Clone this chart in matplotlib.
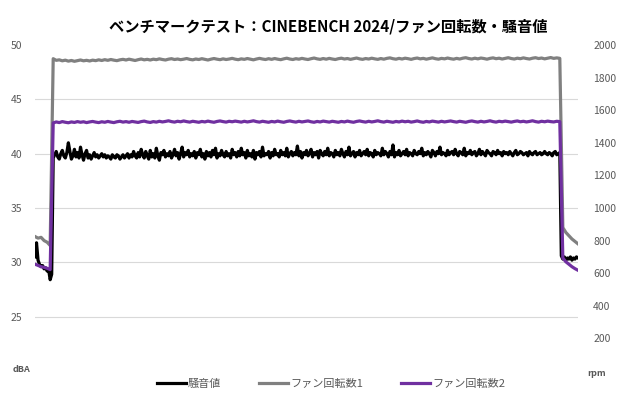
import matplotlib
matplotlib.use("Agg")
import matplotlib.pyplot as plt
import numpy as np

plt.rcParams['font.family'] = ['Noto Sans CJK JP', 'DejaVu Sans']

title = "ベンチマークテスト：CINEBENCH 2024/ファン回転数・騒音値"
series_names = ["騒音値", "ファン回転数1", "ファン回転数2"]

# --- noise (dBA), sampled twice as often as the fans ---
noise_idle_start = [30.5, 31.8, 30.2, 29.8, 29.6, 29.7, 29.4, 29.5, 29.2, 29.3, 28.4, 28.9]
noise_load = [
    39.6, 39.9, 40.2, 39.7, 39.5, 40.0, 40.3, 39.8, 39.6, 40.1, 41.0, 40.2,
    39.5, 39.8, 40.4, 39.7, 40.1, 39.6, 40.6, 39.9, 39.4, 40.0, 40.3, 39.6,
    39.9, 39.5, 39.8, 40.1, 39.7, 39.9, 39.6, 39.8, 40.0, 39.7, 39.9, 39.6,
    39.8, 39.7, 39.5, 39.9, 39.7, 39.6, 39.9, 39.8, 39.5, 39.7, 39.9, 39.6,
    39.8, 40.0, 39.6, 39.9, 39.7, 40.2, 39.8, 39.6, 40.1, 39.7, 40.4, 39.9,
    39.6, 40.2, 39.8, 39.5, 40.3, 39.7, 40.0, 39.6, 40.5, 39.8, 39.4, 40.1,
    39.9, 40.3, 39.7, 40.0, 39.8, 40.2, 39.6, 39.9, 40.4, 39.8, 40.1, 39.5,
    40.0, 40.6, 39.7, 40.1, 39.9, 40.3, 39.7, 40.0, 39.8, 40.2, 39.6, 40.1,
    39.9, 40.4, 39.7, 40.0, 39.5, 40.2, 39.8, 40.1, 39.7, 40.3, 39.9, 40.5,
    39.6, 40.0, 39.8, 40.3, 39.9, 39.7, 40.2, 39.8, 40.0, 39.6, 40.4, 39.9,
    40.1, 39.7, 40.2, 39.8, 40.5, 39.9, 40.1, 39.6, 40.3, 39.8, 40.0, 39.7,
    40.3, 39.5, 40.1, 39.9, 40.2, 39.7, 40.6, 39.8, 40.0, 39.9, 40.2, 39.6,
    40.1, 39.8, 40.4, 39.9, 40.0, 39.7, 40.3, 39.9, 40.1, 39.8, 40.5, 39.7,
    40.0, 40.2, 39.8, 40.1, 39.9, 40.7, 39.8, 40.2, 39.6, 40.1, 39.9, 40.3,
    39.8, 40.0, 40.4, 39.7, 40.1, 39.9, 40.2, 39.6, 40.3, 40.0, 39.8, 40.2,
    39.9, 40.5, 39.8, 40.1, 40.0, 39.7, 40.3, 39.9, 40.1, 39.8, 40.4, 40.0,
    39.7, 40.2, 39.9, 40.6, 39.8, 40.0, 40.2, 39.7, 40.1, 39.9, 40.3, 39.8,
    40.0, 40.2, 39.9, 40.4, 39.8, 40.1, 40.0, 39.7, 40.3, 39.9, 40.1, 40.0,
    39.8, 40.5, 39.9, 40.2, 40.0, 39.7, 40.2, 39.9, 40.8, 39.7, 40.1, 39.9,
    40.3, 39.8, 40.0, 40.2, 39.9, 40.4, 39.8, 40.1, 40.0, 39.8, 40.3, 40.0,
    39.9, 40.2, 40.0, 40.5, 39.8, 40.1, 39.9, 40.2, 40.0, 39.7, 40.3, 40.1,
    39.8, 40.2, 40.0, 40.6, 39.9, 40.1, 40.0, 39.8, 40.3, 39.9, 40.1, 40.2,
    39.9, 40.4, 40.0, 39.8, 40.2, 40.1, 39.9, 40.5, 39.8, 40.1, 40.0, 40.3,
    39.9, 40.1, 40.2, 39.8, 40.0, 40.4, 39.9, 40.2, 40.0, 39.8, 40.3, 40.1,
    40.0, 39.8, 40.2, 40.1, 39.9, 40.3, 40.0, 40.1, 39.8, 40.2, 40.0, 40.1,
    39.9, 40.2, 40.0, 39.8, 40.1, 40.3, 39.9, 40.0, 40.2, 40.1, 39.9, 40.0,
    40.1, 39.8, 40.2, 40.0, 39.9, 40.1, 40.2, 39.9, 40.0, 40.1, 39.9, 40.0,
    40.2, 40.0, 39.9, 40.1, 40.0, 39.8, 40.1, 40.2, 39.9, 40.0, 40.1,
]
noise_idle_end = [30.6, 30.3, 30.5, 30.2, 30.4, 30.3, 30.5, 30.2, 30.4, 30.3, 30.5, 30.4]

# --- fan 1 (rpm) ---
fan1_idle_start = [825, 815, 820, 800, 790, 770]
fan1_load = [
    1916, 1906, 1909, 1903, 1907, 1901, 1905, 1900, 1904, 1908, 1903, 1906,
    1902, 1907, 1904, 1909, 1905, 1910, 1906, 1911, 1907, 1904, 1909, 1912,
    1908, 1913, 1909, 1905, 1910, 1914, 1909, 1912, 1908, 1913, 1910, 1915,
    1911, 1908, 1913, 1916, 1911, 1914, 1910, 1913, 1917, 1912, 1909, 1914,
    1911, 1916, 1912, 1908, 1913, 1917, 1913, 1910, 1915, 1911, 1914, 1918,
    1913, 1910, 1915, 1912, 1917, 1913, 1909, 1914, 1918, 1914, 1911, 1916,
    1912, 1917, 1913, 1910, 1915, 1919, 1914, 1911, 1916, 1913, 1918, 1914,
    1911, 1916, 1920, 1915, 1912, 1917, 1913, 1918, 1914, 1911, 1916, 1919,
    1914, 1917, 1912, 1916, 1920, 1915, 1912, 1917, 1914, 1919, 1915, 1912,
    1917, 1913, 1918, 1921, 1916, 1913, 1918, 1914, 1919, 1916, 1912, 1917,
    1920, 1915, 1918, 1913, 1917, 1921, 1916, 1913, 1918, 1915, 1920, 1916,
    1913, 1918, 1914, 1919, 1922, 1917, 1914, 1919, 1915, 1920, 1917, 1913,
    1918, 1921, 1916, 1919, 1914, 1918, 1922, 1917, 1914, 1919, 1916, 1921,
    1917, 1914, 1919, 1922, 1917, 1920, 1915, 1919, 1923, 1918, 1921, 1918,
]
fan1_idle_end = [880, 850, 830, 810, 795, 780]

# --- fan 2 (rpm) ---
fan2_idle_start = [655, 648, 640, 636, 630, 622]
fan2_load = [
    1522, 1528, 1524, 1530, 1526, 1523, 1528, 1525, 1530, 1526, 1529, 1524,
    1528, 1531, 1527, 1524, 1529, 1526, 1531, 1527, 1524, 1529, 1532, 1527,
    1530, 1526, 1531, 1528, 1525, 1530, 1533, 1528, 1525, 1530, 1527, 1532,
    1528, 1531, 1535, 1530, 1527, 1532, 1529, 1534, 1530, 1527, 1532, 1529,
    1526, 1531, 1528, 1533, 1529, 1526, 1531, 1534, 1530, 1527, 1532, 1529,
    1533, 1530, 1527, 1532, 1528, 1531, 1535, 1530, 1527, 1532, 1529, 1526,
    1531, 1528, 1533, 1529, 1526, 1531, 1534, 1530, 1527, 1532, 1528, 1531,
    1534, 1529, 1526, 1531, 1528, 1533, 1530, 1527, 1532, 1529, 1526, 1531,
    1528, 1533, 1529, 1526, 1531, 1534, 1530, 1527, 1532, 1528, 1531, 1535,
    1530, 1527, 1532, 1529, 1526, 1531, 1528, 1533, 1529, 1532, 1527, 1530,
    1534, 1529, 1526, 1531, 1528, 1533, 1530, 1527, 1532, 1528, 1531, 1534,
    1530, 1527, 1532, 1529, 1526, 1531, 1534, 1530, 1527, 1532, 1528, 1531,
    1535, 1530, 1527, 1532, 1529, 1533, 1530, 1527, 1531, 1534, 1529, 1532,
    1528, 1531, 1535, 1530, 1527, 1532, 1529, 1533, 1530, 1528, 1532, 1530,
]
fan2_idle_end = [693, 670, 655, 640, 628, 618]

left_ticks = [25, 30, 35, 40, 45, 50]
right_ticks = [200, 400, 600, 800, 1000, 1200, 1400, 1600, 1800, 2000]

noise = noise_idle_start + noise_load + noise_idle_end
fan1 = fan1_idle_start + fan1_load + fan1_idle_end
fan2 = fan2_idle_start + fan2_load + fan2_idle_end
t_fan = np.arange(len(fan1))
t_noise = np.arange(len(noise)) * 0.5

label_color = "#595959"

fig = plt.figure(figsize=(6.2, 4.0), dpi=100)
ax = fig.add_axes([35/620, 1-371/400, (578-35)/620, (371-45)/400])
ax2 = ax.twinx()

ax.plot(t_noise, noise, color="#000000", lw=2.3, label=series_names[0])
ax2.plot(t_fan, fan1, color="#808080", lw=2.3, label=series_names[1])
ax2.plot(t_fan, fan2, color="#7030A0", lw=2.3, label=series_names[2])

ax.set_xlim(t_fan[0], t_fan[-1])
ax.set_ylim(20, 50)
ax2.set_ylim(0, 2000)

ax.set_yticks([20] + left_ticks)
ax.set_yticklabels([""] + [str(v) for v in left_ticks])
ax2.set_yticks(right_ticks)
ax2.set_yticklabels([str(v) for v in right_ticks])
ax.set_xticks([])

ax.grid(axis="y", color="#d9d9d9", lw=0.8)
gl = ax.yaxis.get_gridlines()
gl[0].set_visible(False)
gl[-1].set_visible(False)
ax.set_axisbelow(True)

for a in (ax, ax2):
    for s in a.spines.values():
        s.set_visible(False)
    a.tick_params(axis="y", length=0, labelsize=7.5, labelcolor=label_color, pad=9)
ax2.tick_params(axis="y", pad=11)

fig.text(21/620, 1-370/400, "dBA", fontsize=6.5, fontweight="bold", color=label_color,
         ha="center", va="center")
fig.text(597/620, 1-373/400, "rpm", fontsize=6.5, fontweight="bold", color=label_color,
         ha="center", va="center")

fig.text(328/620, 1-26/400, title, fontsize=11, fontweight="bold", color="#000000",
         ha="center", va="center")

h1, l1 = ax.get_legend_handles_labels()
h2, l2 = ax2.get_legend_handles_labels()
leg = fig.legend(h1 + h2, l1 + l2, loc="center", bbox_to_anchor=(331/620, 1-384/400),
                 ncol=3, frameon=False, fontsize=8, handlelength=2.6, handletextpad=0.2,
                 columnspacing=3.4)
for txt in leg.get_texts():
    txt.set_color(label_color)

fig.savefig("out.png", dpi=100, facecolor="white")
